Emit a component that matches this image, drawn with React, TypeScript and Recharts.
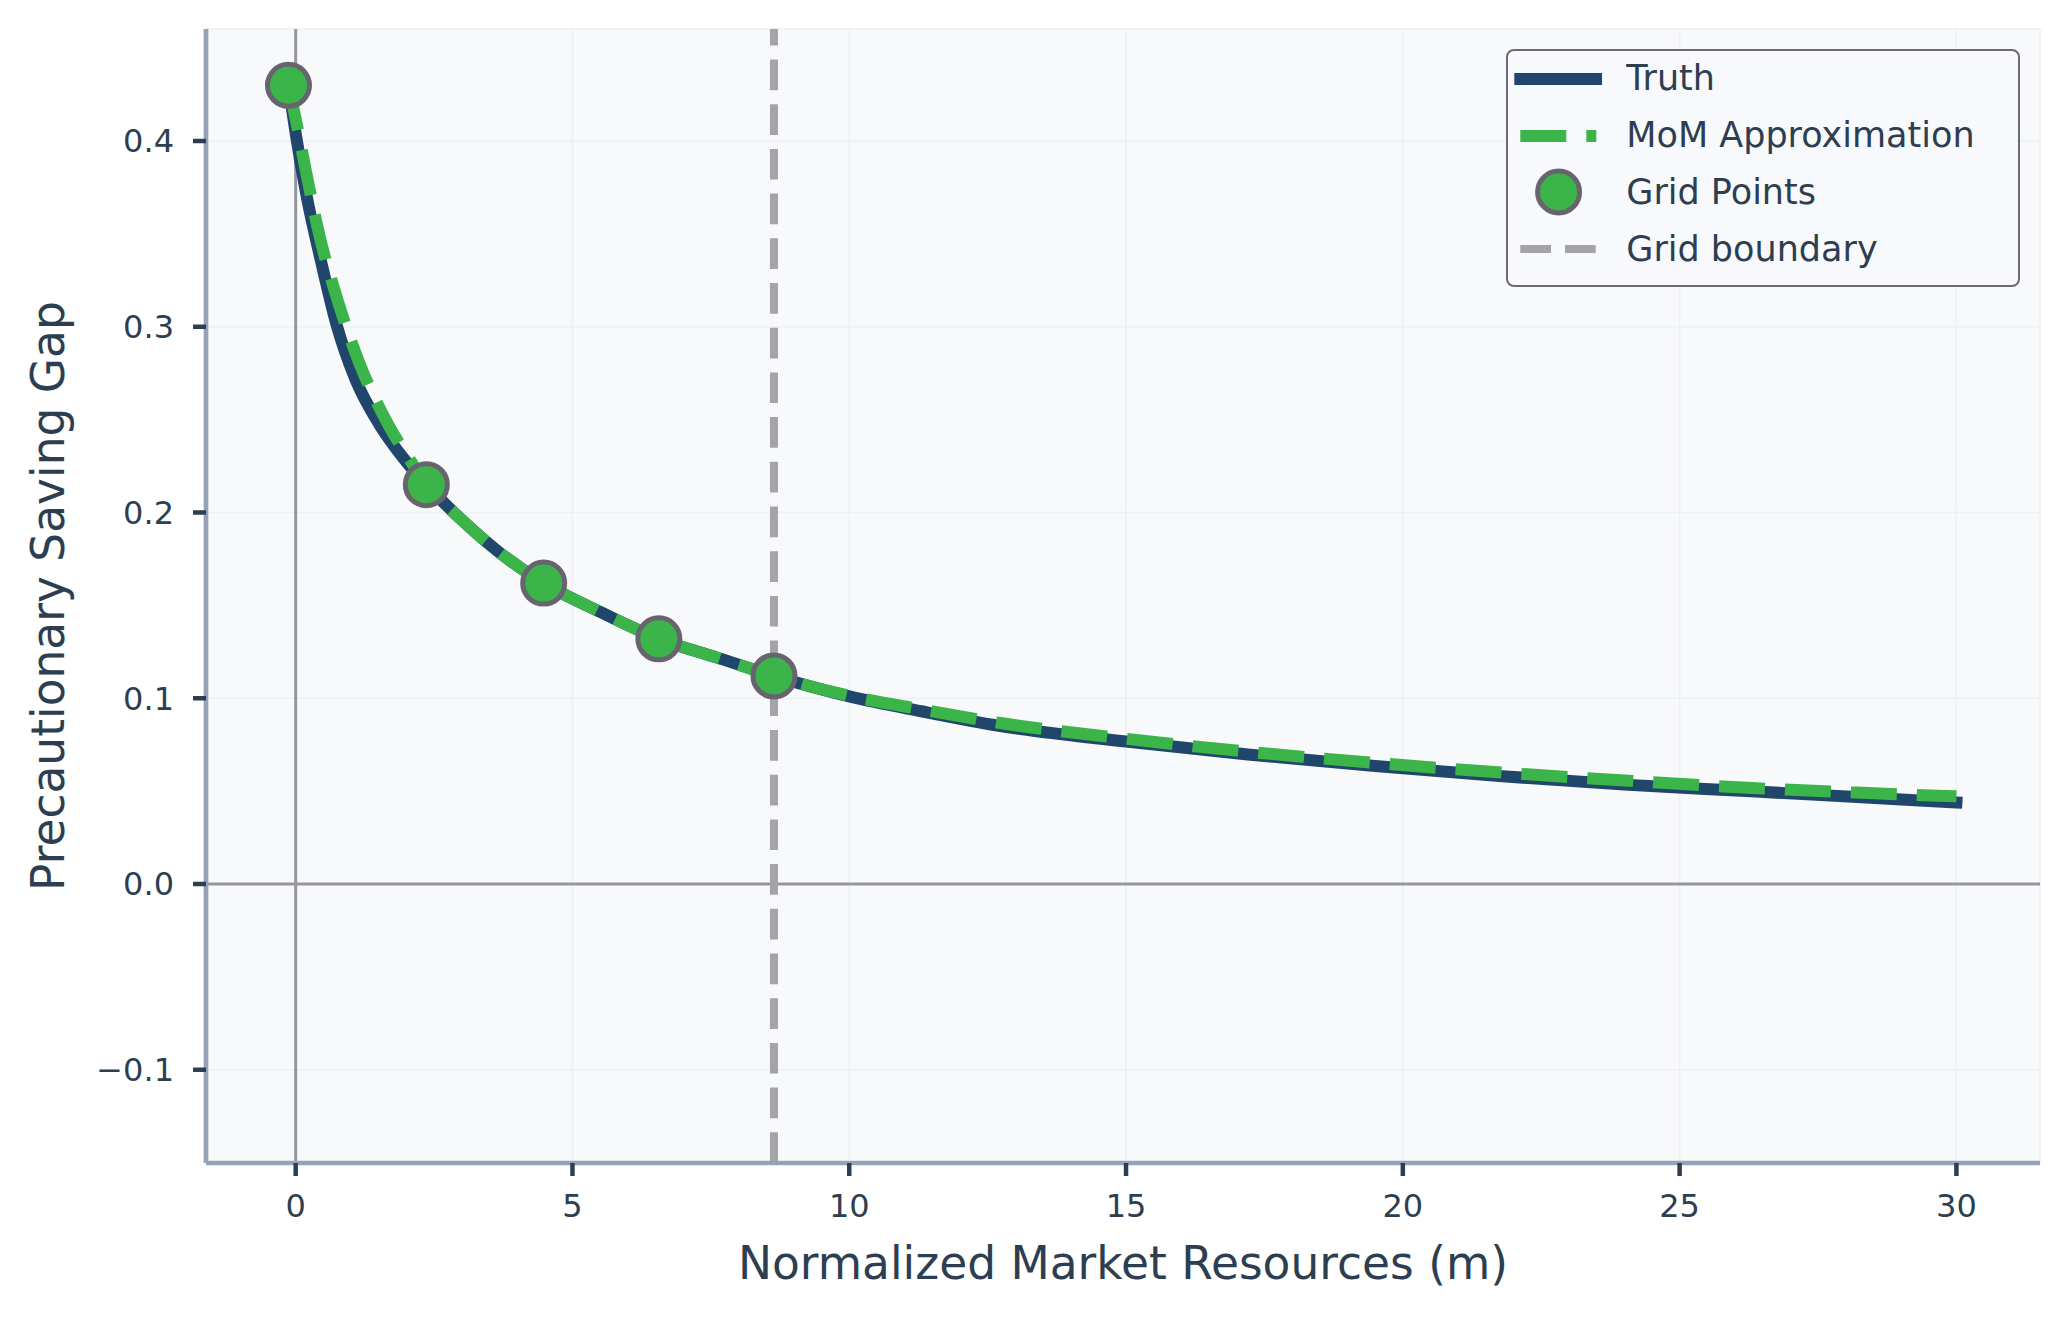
import {
  CartesianGrid,
  ComposedChart,
  Legend,
  Line,
  ReferenceLine,
  Scatter,
  XAxis,
  YAxis,
} from "recharts";

// values
const truthM = [
  -0.13, 0.0, 0.2, 0.46, 0.73, 1.09, 1.51, 1.94, 2.36, 3.0, 3.7, 4.48, 5.5,
  6.56, 7.6, 8.64, 10.0, 11.3, 12.7, 15.0, 17.2, 19.5, 21.8, 24.0, 26.3, 28.2,
  30.0,
];
const truthGap = [
  0.43, 0.404, 0.37, 0.335, 0.302, 0.271, 0.2475, 0.2295, 0.215, 0.196, 0.178,
  0.162, 0.1465, 0.132, 0.122, 0.112, 0.101, 0.093, 0.0852, 0.0767, 0.0697,
  0.0635, 0.058, 0.0535, 0.0499, 0.0468, 0.0439,
];

const momM = [
  -0.13, 0.0, 0.19, 0.43, 0.76, 1.15, 1.66, 2.06, 2.36, 3.0, 3.7, 4.48, 5.5,
  6.56, 7.6, 8.64, 10.0, 11.3, 12.7, 15.0, 17.2, 19.5, 21.8, 24.0, 26.3, 28.2,
  30.0,
];
const momGap = [
  0.43, 0.412, 0.383, 0.349, 0.314, 0.2805, 0.248, 0.2285, 0.215, 0.196, 0.178,
  0.162, 0.1465, 0.132, 0.122, 0.112, 0.1013, 0.094, 0.0868, 0.0782, 0.0712,
  0.0652, 0.06, 0.0557, 0.0517, 0.0492, 0.0472,
];

const gridM = [-0.13, 2.36, 4.48, 6.56, 8.64];
const gridGap = [0.43, 0.215, 0.162, 0.132, 0.112];

const boundaryM = 8.64;

const xTicks = [0, 5, 10, 15, 20, 25, 30];
const yTicks = [-0.1, 0, 0.1, 0.2, 0.3, 0.4];
const xDomain = [-1.62, 31.51];
const yDomain = [-0.1502, 0.4603];

const NAVY = "#21466b";
const GREEN = "#3bb54a";
const MARKER_EDGE = "#67646f";
const BOUNDARY = "#a4a4a8";
const ZERO_LINE = "#96969d";
const SPINE = "#94a3b8";
const TEXT = "#2d3e50";
const FONT = '"DejaVu Sans", sans-serif';

const toPoints = (ms: number[], gaps: number[]) =>
  ms.map((m, i) => ({ m, gap: gaps[i] }));

const truthData = toPoints(truthM, truthGap);
const momData = toPoints(momM, momGap);
const gridData = toPoints(gridM, gridGap);

const formatY = (v: number) =>
  v < 0 ? `\u2212${Math.abs(v).toFixed(1)}` : v.toFixed(1);

function GridMarker(props: any) {
  const { cx, cy } = props;
  return (
    <circle
      cx={cx}
      cy={cy}
      r={21}
      fill={GREEN}
      stroke={MARKER_EDGE}
      strokeWidth={5}
    />
  );
}

const legendItems = [
  { key: "truth", label: "Truth" },
  { key: "mom", label: "MoM Approximation" },
  { key: "grid", label: "Grid Points" },
  { key: "boundary", label: "Grid boundary" },
];

function Swatch({ kind }: { kind: string }) {
  return (
    <svg width={94} height={50} style={{ display: "block", flex: "none" }}>
      {kind === "truth" && (
        <line
          x1={12.3}
          x2={88.3}
          y1={25}
          y2={25}
          stroke={NAVY}
          strokeWidth={12}
          strokeLinecap="square"
        />
      )}
      {kind === "mom" && (
        <line
          x1={12.3}
          x2={88.3}
          y1={25}
          y2={25}
          stroke={GREEN}
          strokeWidth={12}
          strokeDasharray="46 20"
        />
      )}
      {kind === "grid" && (
        <circle
          cx={50.6}
          cy={25}
          r={21}
          fill={GREEN}
          stroke={MARKER_EDGE}
          strokeWidth={5}
        />
      )}
      {kind === "boundary" && (
        <line
          x1={12.3}
          x2={88.3}
          y1={25}
          y2={25}
          stroke={BOUNDARY}
          strokeWidth={8}
          strokeDasharray="30.7 14"
        />
      )}
    </svg>
  );
}

function ChartLegend() {
  return (
    <div
      style={{
        boxSizing: "border-box",
        width: 514,
        height: 238,
        border: "2.7px solid #6b6975",
        borderRadius: 8,
        background: "rgba(248,249,251,0.85)",
        fontFamily: FONT,
        fontSize: 35,
        color: TEXT,
      }}
    >
      {legendItems.map((item) => (
        <div
          key={item.key}
          style={{ display: "flex", alignItems: "center", height: 56.8 }}
        >
          <Swatch kind={item.key} />
          <span style={{ marginLeft: 24.3, lineHeight: 1, whiteSpace: "nowrap" }}>
            {item.label}
          </span>
        </div>
      ))}
    </div>
  );
}

export default function App() {
  return (
    <div style={{ width: 2068, height: 1320, background: "#ffffff" }}>
      <style>{"body{margin:0;background:#fff}"}</style>
      <ComposedChart
        width={2068}
        height={1320}
        margin={{ top: 29, right: 28, bottom: 0, left: 0 }}
      >
        <CartesianGrid stroke="#edf0f4" strokeWidth={1.5} fill="#f8f9fb" />
        <XAxis
          type="number"
          dataKey="m"
          domain={xDomain}
          ticks={xTicks}
          allowDataOverflow
          height={157}
          tickSize={13}
          tickMargin={18}
          axisLine={{ stroke: SPINE, strokeWidth: 4.7 }}
          tickLine={{ stroke: TEXT, strokeWidth: 4.5 }}
          tick={{ fill: TEXT, fontSize: 32, fontFamily: FONT }}
          label={{
            content: ({ viewBox }: any) => (
              <text
                x={viewBox.x + viewBox.width / 2}
                y={viewBox.y + 116}
                textAnchor="middle"
                fill={TEXT}
                fontSize={45.5}
                fontFamily={FONT}
              >
                Normalized Market Resources (m)
              </text>
            ),
          }}
        />
        <YAxis
          type="number"
          domain={yDomain}
          ticks={yTicks}
          allowDataOverflow
          width={206}
          tickSize={13}
          tickMargin={19}
          tickFormatter={formatY}
          axisLine={{ stroke: SPINE, strokeWidth: 4.7 }}
          tickLine={{ stroke: TEXT, strokeWidth: 4.5 }}
          tick={{ fill: TEXT, fontSize: 32, fontFamily: FONT }}
          label={{
            content: ({ viewBox }: any) => {
              const cx = viewBox.x + 48;
              const cy = viewBox.y + viewBox.height / 2;
              return (
                <text
                  x={cx}
                  y={cy}
                  dy="0.355em"
                  transform={`rotate(-90, ${cx}, ${cy})`}
                  textAnchor="middle"
                  fill={TEXT}
                  fontSize={45.5}
                  fontFamily={FONT}
                >
                  Precautionary Saving Gap
                </text>
              );
            },
          }}
        />
        <ReferenceLine x={0} stroke={ZERO_LINE} strokeWidth={3} />
        <ReferenceLine y={0} stroke={ZERO_LINE} strokeWidth={3} />
        <ReferenceLine
          x={boundaryM}
          stroke={BOUNDARY}
          strokeWidth={8}
          strokeDasharray="30.7 14"
        />
        <Line
          data={truthData}
          dataKey="gap"
          name="Truth"
          type="monotone"
          stroke={NAVY}
          strokeWidth={12}
          strokeLinecap="square"
          strokeLinejoin="round"
          dot={false}
          activeDot={false}
          isAnimationActive={false}
        />
        <Line
          data={momData}
          dataKey="gap"
          name="MoM Approximation"
          type="monotone"
          stroke={GREEN}
          strokeWidth={12}
          strokeDasharray="46 20"
          dot={false}
          activeDot={false}
          isAnimationActive={false}
        />
        <Scatter
          data={gridData}
          dataKey="gap"
          name="Grid Points"
          shape={GridMarker}
          isAnimationActive={false}
        />
        <Legend
          layout="vertical"
          align="center"
          verticalAlign="middle"
          content={() => <ChartLegend />}
          wrapperStyle={{ left: 1506, top: 48.5, width: 514, height: 238 }}
        />
      </ComposedChart>
    </div>
  );
}
